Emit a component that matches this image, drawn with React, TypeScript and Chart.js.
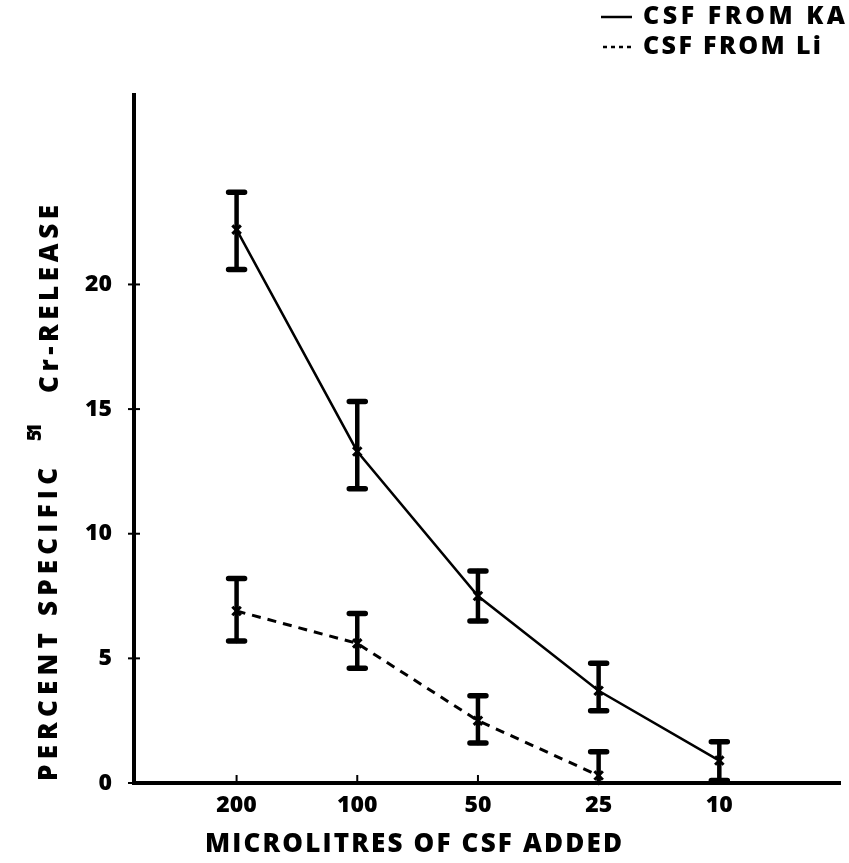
import React, { useEffect, useRef } from "react";
import { Chart, registerables } from "chart.js";

Chart.register(...registerables);

const categories = ["200", "100", "50", "25", "10"];
const kaMean = [22.2, 13.3, 7.5, 3.7, 0.9];
const kaHigh = [23.7, 15.3, 8.5, 4.8, 1.65];
const kaLow = [20.6, 11.8, 6.5, 2.9, 0.1];
const liMean = [6.9, 5.6, 2.5, 0.3];
const liHigh = [8.2, 6.8, 3.5, 1.25];
const liLow = [5.7, 4.6, 1.6, -0.6];
const yTicks = [0, 5, 10, 15, 20];
const legendLabels = ["CSF FROM KA", "CSF FROM Li"];
const xTitle = "MICROLITRES OF CSF ADDED";
const yTitleA = "PERCENT SPECIFIC";
const yTitleSup = "51";
const yTitleB = "Cr-RELEASE";

const FONT = "'Open Sans', 'DejaVu Sans', sans-serif";

function fitText(ctx: any, text: string, x: number, y: number, target: number) {
  ctx.letterSpacing = "0px";
  const w = ctx.measureText(text).width;
  const sp = (target - w) / Math.max(1, text.length - 1);
  ctx.letterSpacing = `${sp}px`;
  ctx.fillText(text, x, y);
  ctx.letterSpacing = "0px";
}

const drawPlugin = {
  id: "customDraw",
  afterDatasetsDraw(chart: any) {
    const ctx = chart.ctx;
    const xs = chart.scales.x;
    const ys = chart.scales.y;
    const area = chart.chartArea;
    ctx.save();
    ctx.strokeStyle = "#000";
    ctx.lineCap = "round";
    chart.data.datasets.forEach((ds: any) => {
      ds.data.forEach((p: any, i: number) => {
        const x = xs.getPixelForValue(p.x);
        const yH = ys.getPixelForValue(ds.errHigh[i]);
        let yL = ys.getPixelForValue(ds.errLow[i]);
        const clipped = yL > area.bottom;
        if (clipped) yL = area.bottom;
        ctx.lineWidth = 4.5;
        ctx.beginPath();
        ctx.moveTo(x, yH);
        ctx.lineTo(x, yL);
        ctx.stroke();
        ctx.lineWidth = 5.5;
        ctx.beginPath();
        ctx.moveTo(x - 8, yH);
        ctx.lineTo(x + 8, yH);
        if (!clipped) {
          ctx.moveTo(x - 8, yL);
          ctx.lineTo(x + 8, yL);
        }
        ctx.stroke();
      });
    });
    ctx.lineWidth = 2;
    ctx.lineCap = "butt";
    yTicks.forEach((v) => {
      const y = ys.getPixelForValue(v);
      ctx.beginPath();
      ctx.moveTo(area.left - 6, y);
      ctx.lineTo(area.left + 6, y);
      ctx.stroke();
    });
    categories.forEach((_, i) => {
      const x = xs.getPixelForValue(i);
      ctx.beginPath();
      ctx.moveTo(x, area.bottom);
      ctx.lineTo(x, area.bottom - 8);
      ctx.stroke();
    });
    ctx.restore();
  },
  afterDraw(chart: any) {
    const ctx = chart.ctx;
    ctx.save();
    ctx.fillStyle = "#000";
    ctx.strokeStyle = "#000";
    ctx.textBaseline = "middle";
    ctx.textAlign = "left";
    // legend
    ctx.font = `800 25px ${FONT}`;
    ctx.lineWidth = 2.5;
    ctx.beginPath();
    ctx.moveTo(601, 17);
    ctx.lineTo(632, 17);
    ctx.stroke();
    fitText(ctx, legendLabels[0], 643, 17, 202);
    ctx.setLineDash([4, 4]);
    ctx.beginPath();
    ctx.moveTo(603, 47);
    ctx.lineTo(632, 47);
    ctx.stroke();
    ctx.setLineDash([]);
    fitText(ctx, legendLabels[1], 643, 47, 178);
    // x title
    ctx.font = `800 26px ${FONT}`;
    fitText(ctx, xTitle, 205, 845, 417);
    // y title
    ctx.translate(50, 781);
    ctx.rotate(-Math.PI / 2);
    ctx.font = `800 26px ${FONT}`;
    fitText(ctx, yTitleA, 0, 0, 313);
    ctx.font = `800 19px ${FONT}`;
    fitText(ctx, yTitleSup, 340, -14, 18);
    ctx.font = `800 26px ${FONT}`;
    fitText(ctx, yTitleB, 388, 1, 188);
    ctx.restore();
  },
};

export default function App() {
  const ref = useRef<HTMLCanvasElement>(null);
  useEffect(() => {
    if (!ref.current) return;
    const chart = new Chart(ref.current, {
      type: "line",
      data: {
        datasets: [
          {
            label: legendLabels[0],
            data: kaMean.map((v, i) => ({ x: i, y: v })),
            errHigh: kaHigh,
            errLow: kaLow,
            borderColor: "#000",
            backgroundColor: "#000",
            borderWidth: 2.5,
            pointStyle: "crossRot",
            pointRadius: 6,
            pointBorderWidth: 3,
            tension: 0,
          } as any,
          {
            label: legendLabels[1],
            data: liMean.map((v, i) => ({ x: i, y: v })),
            errHigh: liHigh,
            errLow: liLow,
            borderColor: "#000",
            backgroundColor: "#000",
            borderWidth: 3,
            borderDash: [9, 7],
            pointStyle: "crossRot",
            pointRadius: 6,
            pointBorderWidth: 3,
            tension: 0,
          } as any,
        ],
      },
      options: {
        animation: false,
        responsive: false,
        maintainAspectRatio: false,
        layout: { padding: { left: 0, top: 95, right: 1, bottom: 0 } },
        plugins: { legend: { display: false }, tooltip: { enabled: false } },
        scales: {
          x: {
            type: "linear",
            min: -0.85,
            max: 5.0,
            afterFit: (s: any) => {
              s.height = 80;
            },
            afterBuildTicks: (s: any) => {
              s.ticks = categories.map((_, i) => ({ value: i }));
            },
            grid: { display: false, drawTicks: false },
            border: { color: "#000", width: 4 },
            ticks: {
              color: "#000",
              padding: 9,
              font: { family: FONT, size: 23, weight: "800" },
              callback: (v: any) => categories[v] ?? "",
            },
          },
          y: {
            type: "linear",
            min: 0,
            max: 27.6,
            afterFit: (s: any) => {
              s.width = 134;
            },
            afterBuildTicks: (s: any) => {
              s.ticks = yTicks.map((v) => ({ value: v }));
            },
            grid: { display: false, drawTicks: false },
            border: { color: "#000", width: 4 },
            ticks: {
              color: "#000",
              padding: 22,
              font: { family: FONT, size: 23, weight: "800" },
            },
          },
        },
      } as any,
      plugins: [drawPlugin],
    });
    return () => chart.destroy();
  }, []);
  return (
    <div style={{ position: "absolute", left: 0, top: 0, width: 849, height: 863, background: "#fff" }}>
      <canvas ref={ref} width={849} height={863} style={{ display: "block" }} />
    </div>
  );
}
